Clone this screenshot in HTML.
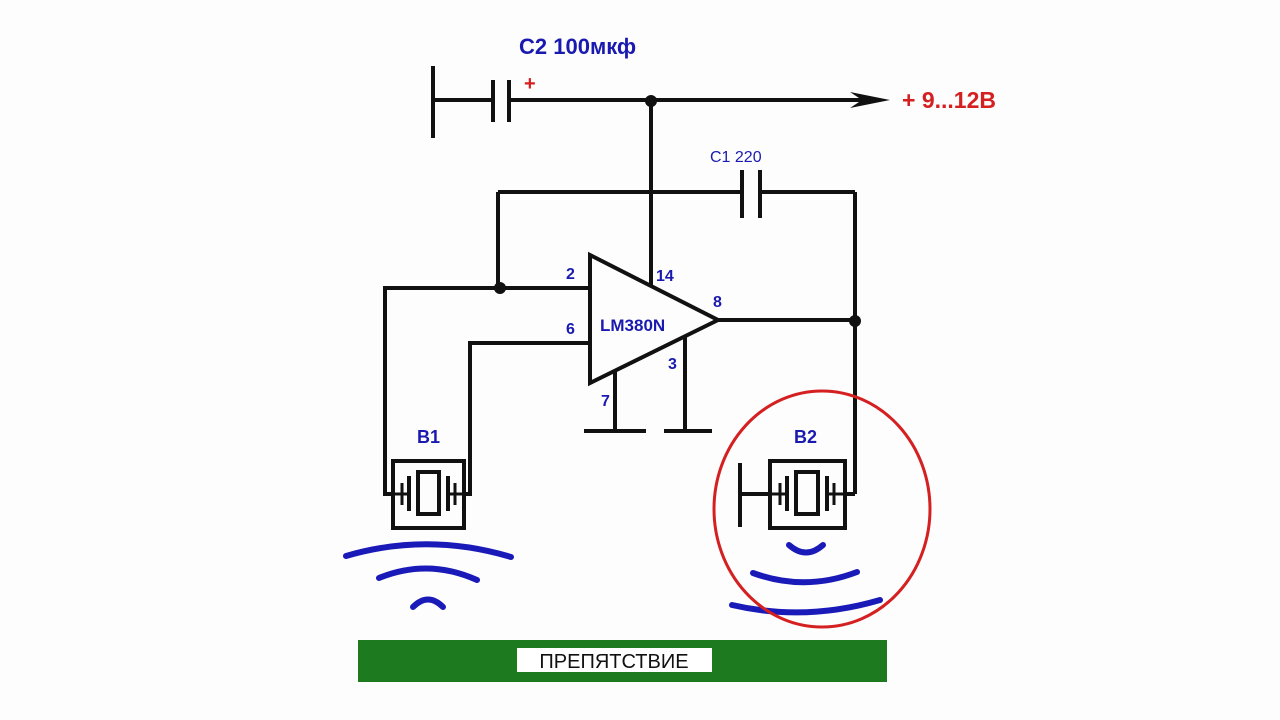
<!DOCTYPE html>
<html><head><meta charset="utf-8"><style>body{margin:0;background:#fff}svg{display:block}</style></head><body>
<svg width="1280" height="720" viewBox="0 0 1280 720" xmlns="http://www.w3.org/2000/svg">
<rect width="1280" height="720" fill="#fdfdfd"/>
<g stroke="#111" stroke-width="4" fill="none">
<line x1="433" y1="66" x2="433" y2="138"/>
<line x1="433" y1="100" x2="493" y2="100"/>
<line x1="493" y1="80" x2="493" y2="122"/>
<line x1="509" y1="80" x2="509" y2="122"/>
<line x1="509" y1="100" x2="875" y2="100"/>
<line x1="651" y1="100" x2="651" y2="285"/>
<line x1="498" y1="192" x2="742" y2="192"/>
<line x1="742" y1="170" x2="742" y2="218"/>
<line x1="760" y1="170" x2="760" y2="218"/>
<line x1="760" y1="192" x2="855" y2="192"/>
<line x1="855" y1="192" x2="855" y2="494"/>
<line x1="855" y1="494" x2="845" y2="494"/>
<line x1="498" y1="192" x2="498" y2="288"/>
<polyline points="590,288 385,288 385,494 394,494"/>
<polyline points="590,343 470,343 470,494 463,494"/>
<polygon points="590,255 590,383 718,320"/>
<line x1="718" y1="320" x2="855" y2="320"/>
<line x1="615" y1="370" x2="615" y2="431"/>
<line x1="584" y1="431" x2="646" y2="431"/>
<line x1="685" y1="337" x2="685" y2="431"/>
<line x1="664" y1="431" x2="712" y2="431"/>
<rect x="393" y="461" width="71" height="67"/>
<rect x="770" y="461" width="75" height="67"/>
<line x1="740" y1="463" x2="740" y2="527"/>
<line x1="740" y1="494" x2="770" y2="494"/>
</g>
<g stroke="#111" fill="none">
<g stroke-width="4"><rect x="418" y="472" width="21" height="42"/><line x1="409" y1="476" x2="409" y2="511"/><line x1="448" y1="476" x2="448" y2="511"/></g>
<g stroke-width="3"><line x1="402" y1="483" x2="402" y2="505"/><line x1="455" y1="483" x2="455" y2="505"/><line x1="395" y1="494" x2="409" y2="494"/><line x1="448" y1="494" x2="462" y2="494"/></g>
<g stroke-width="4"><rect x="796" y="472" width="22" height="42"/><line x1="787" y1="476" x2="787" y2="511"/><line x1="827" y1="476" x2="827" y2="511"/></g>
<g stroke-width="3"><line x1="780" y1="483" x2="780" y2="505"/><line x1="834" y1="483" x2="834" y2="505"/><line x1="772" y1="494" x2="787" y2="494"/><line x1="827" y1="494" x2="843" y2="494"/></g>
</g>
<polygon points="850,92 890,100 850,108 862,100" fill="#111"/>
<g fill="#111"><circle cx="651" cy="101" r="6"/><circle cx="500" cy="288" r="6"/><circle cx="855" cy="321" r="6"/></g>
<g font-family="Liberation Sans, sans-serif" font-weight="bold" fill="#1a1ab0">
<text x="519" y="54" font-size="22">C2 100мкф</text>
<text x="710" y="162" font-size="16" font-weight="normal">C1 220</text>
<text x="566" y="279" font-size="16">2</text>
<text x="566" y="334" font-size="16">6</text>
<text x="656" y="281" font-size="16">14</text>
<text x="713" y="307" font-size="16">8</text>
<text x="668" y="369" font-size="16">3</text>
<text x="601" y="406" font-size="16">7</text>
<text x="600" y="331" font-size="17">LM380N</text>
<text x="417" y="443" font-size="18">B1</text>
<text x="794" y="443" font-size="18">B2</text>
</g>
<g font-family="Liberation Sans, sans-serif" font-weight="bold" fill="#d42020">
<text x="524" y="90" font-size="20">+</text>
<text x="902" y="108" font-size="23">+ 9...12В</text>
</g>
<g stroke="#1a1ab8" stroke-width="6" fill="none" stroke-linecap="round">
<path d="M346,556 Q428,532 511,557"/>
<path d="M379,578 Q428,558 477,580"/>
<path d="M413,607 Q428,592 443,607"/>
<path d="M789,545 Q806,560 823,545"/>
<path d="M753,573 Q805,592 857,572"/>
<path d="M732,605 Q805,622 880,600"/>
</g>
<ellipse cx="822" cy="509" rx="108" ry="118" stroke="#d42020" stroke-width="3" fill="none"/>
<rect x="358" y="640" width="529" height="42" fill="#1e7a1e"/>
<rect x="517" y="648" width="195" height="24" fill="#fff"/>
<text x="614" y="668" font-family="Liberation Sans, sans-serif" font-size="20" fill="#111" text-anchor="middle">ПРЕПЯТСТВИЕ</text>
</svg>
</body></html>
